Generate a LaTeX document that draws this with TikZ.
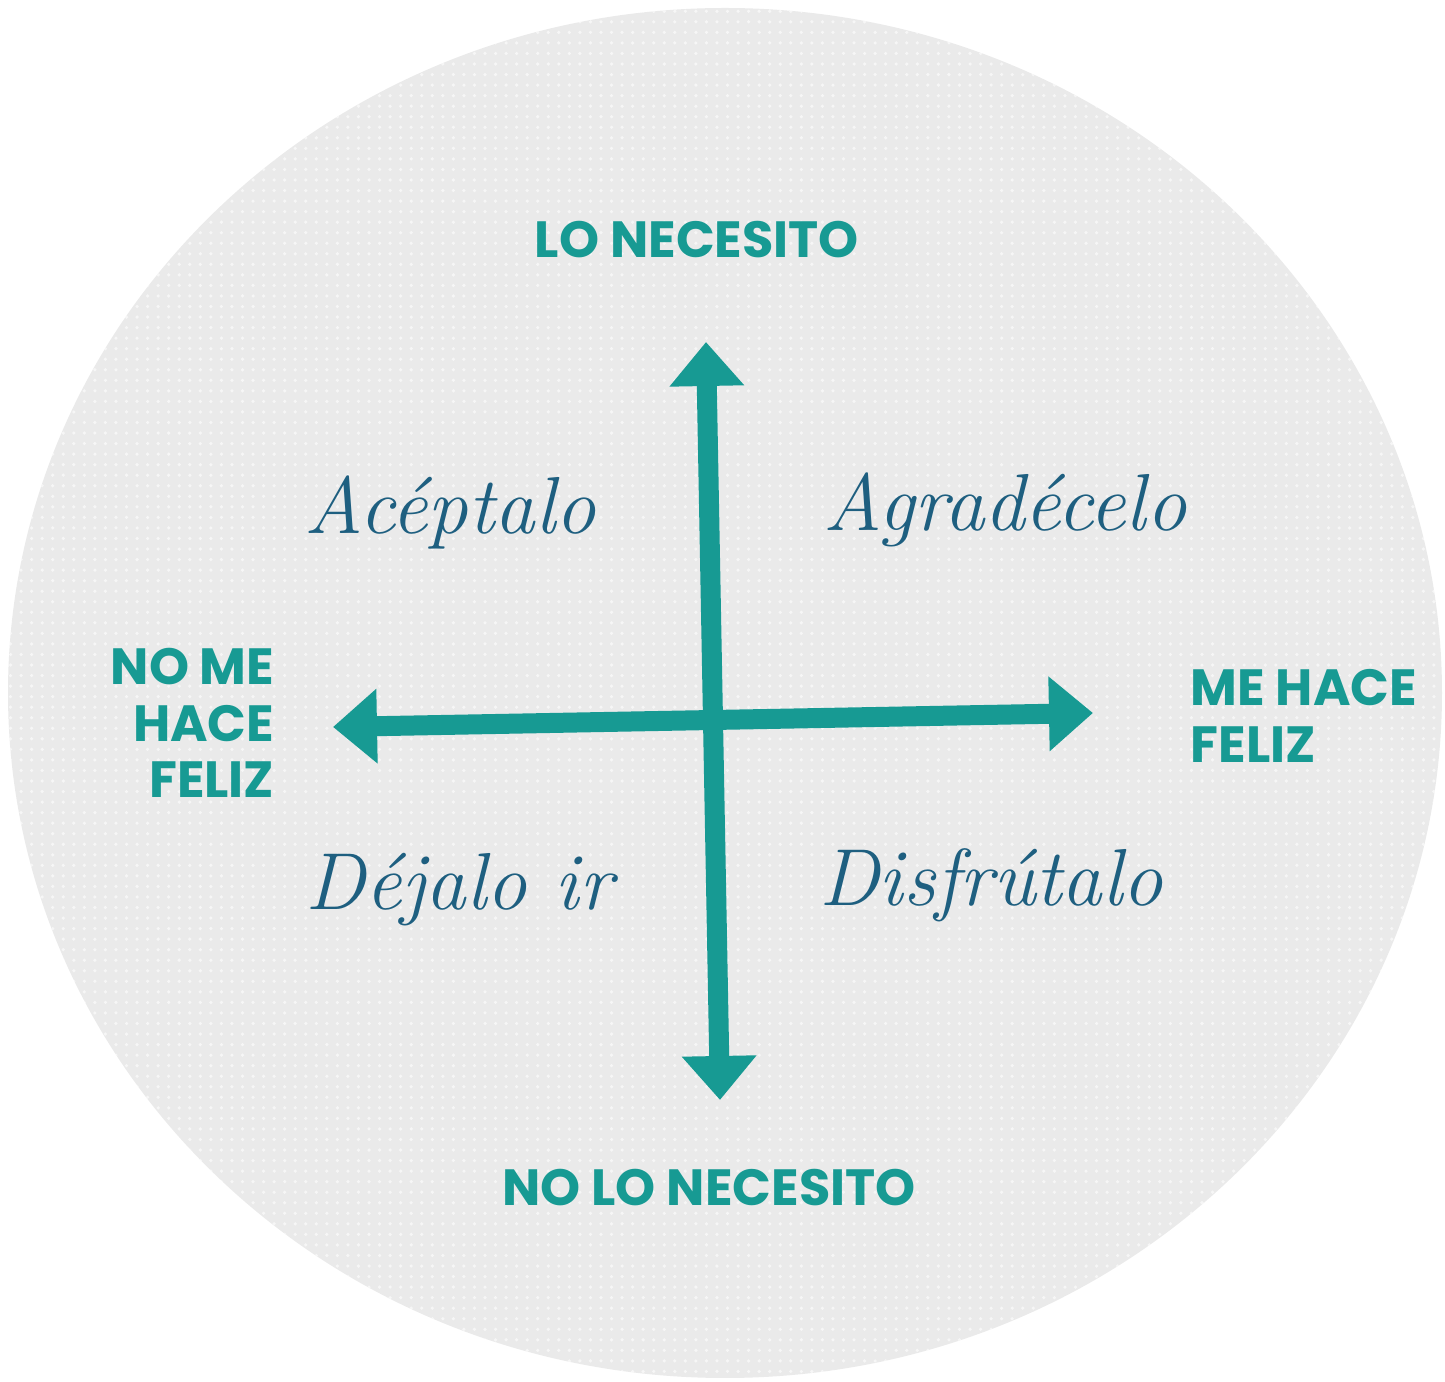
\documentclass[tikz,border=0pt]{standalone}
\usepackage{fontspec}
\usepackage{xcolor}
\usepackage{tikz}
\usetikzlibrary{arrows.meta, patterns}

\newfontfamily\capsfont{Poppins}
\definecolor{axisteal}{RGB}{23,154,147}
\definecolor{scriptblue}{RGB}{30,95,128}
\definecolor{discgrey}{RGB}{234,234,234}

\tikzset{
	axislabel/.style = {text = axisteal, font = \capsfont\bfseries\fontsize{14.5}{16}\selectfont, inner sep = 0pt},
	quadrant/.style = {text = scriptblue, font = \itshape\fontsize{23}{26}\selectfont, inner sep = 0pt},
	axis/.style = {draw = axisteal, line width = 0.2cm, -{Triangle[width = 0.72cm, length = 0.44cm]}}
}

\begin{document}
\begin{tikzpicture}
						\useasboundingbox (0,0) rectangle (14.45,13.82);
						\begin{scope}
							\fill [discgrey] (7.25,6.89) ellipse [x radius = 7.17, y radius = 6.85];
							\fill [pattern = dots, pattern color = white, opacity = 0.6] (7.25,6.89) ellipse [x radius = 7.17, y radius = 6.85];
						\end{scope}
						\begin{scope}
							\coordinate (need) at (7.06,10.40);
							\coordinate (noneed) at (7.20,2.82);
							\coordinate (unhappy) at (3.33,6.55);
							\coordinate (happy) at (10.93,6.69);
							\coordinate (centre) at (7.13,6.62);

							\draw [axis] (centre) -- (need);
							\draw [axis] (centre) -- (noneed);
							\draw [axis] (centre) -- (unhappy);
							\draw [axis] (centre) -- (happy);
						\end{scope}
						\begin{scope}
							\node [axislabel] (needlabel) at (6.97,11.42) {LO NECESITO};
							\node [axislabel] (noneedlabel) at (7.09,1.94) {NO LO NECESITO};
							\node [axislabel, anchor = west, align = left] (happylabel) at (11.90,6.66) {ME HACE\\FELIZ};
							\node [axislabel, anchor = east, align = right] (unhappylabel) at (2.75,6.59) {NO ME\\HACE\\FELIZ};
						\end{scope}
						\begin{scope}
							\node [quadrant] (accept) at (4.50,8.70) {Acéptalo};
							\node [quadrant] (thank) at (10.05,8.72) {Agradécelo};
							\node [quadrant] (letgo) at (4.59,4.92) {Déjalo ir};
							\node [quadrant] (enjoy) at (9.91,4.97) {Disfrútalo};
						\end{scope}
					\end{tikzpicture}
\end{document}
